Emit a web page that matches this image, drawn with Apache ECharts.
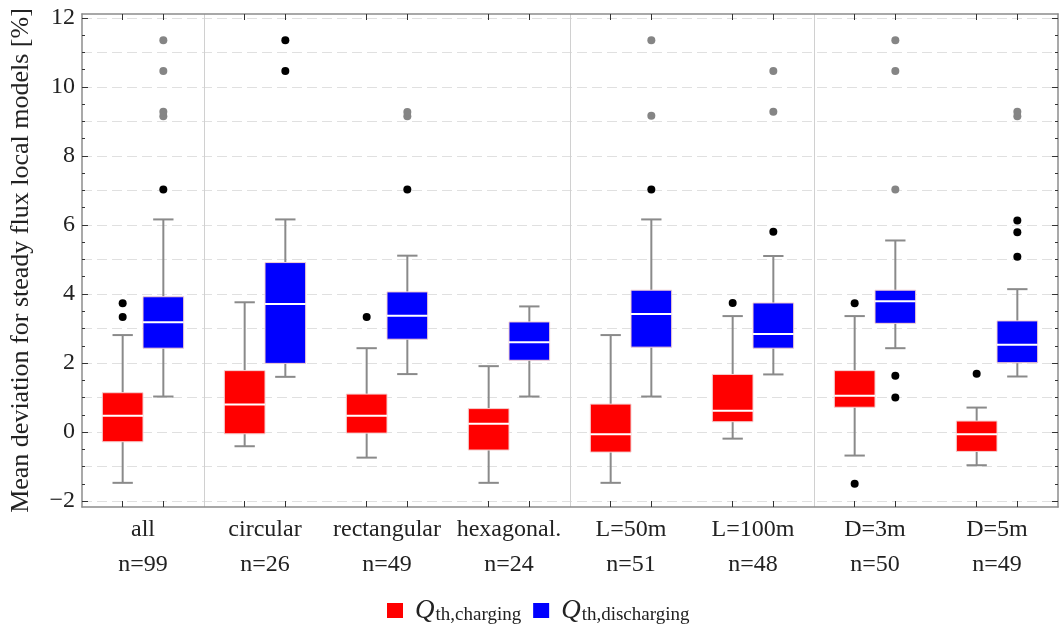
<!DOCTYPE html>
<html>
<head>
<meta charset="UTF-8">
<script src="https://cdn.jsdelivr.net/npm/echarts@6/dist/echarts.min.js"></script>
<style>
    html, body { margin: 0; background: #fff; }
    #chart { width: 1063px; height: 630px; }
</style>
</head>
<body>
<div id="chart"></div>
<script>
    // groups along the x axis, with sample sizes
    var groups = ['all', 'circular', 'rectangular', 'hexagonal.', 'L=50m', 'L=100m', 'D=3m', 'D=5m'];
    var counts = [99, 26, 49, 24, 51, 48, 50, 49];

    // [whisker low, Q1, median, Q3, whisker high]
    var charging = [
        [-1.47, -0.28, 0.47, 1.14, 2.81],
        [-0.41, -0.05, 0.80, 1.78, 3.76],
        [-0.74, -0.03, 0.47, 1.10, 2.43],
        [-1.47, -0.52, 0.24, 0.68, 1.91],
        [-1.47, -0.58, -0.06, 0.81, 2.81],
        [-0.19, 0.30, 0.62, 1.67, 3.36],
        [-0.68, 0.72, 1.05, 1.78, 3.36],
        [-0.96, -0.56, -0.06, 0.32, 0.71]
    ];
    var discharging = [
        [1.03, 2.43, 3.18, 3.92, 6.16],
        [1.60, 1.99, 3.71, 4.91, 6.16],
        [1.68, 2.69, 3.37, 4.06, 5.11],
        [1.03, 2.08, 2.60, 3.19, 3.64],
        [1.03, 2.46, 3.42, 4.11, 6.16],
        [1.67, 2.43, 2.84, 3.74, 5.10],
        [2.43, 3.15, 3.79, 4.11, 5.55],
        [1.61, 2.01, 2.53, 3.22, 4.14]
    ];

    // outliers as [group index, value]
    var chargingOut = [[0, 3.73], [0, 3.33], [2, 3.33], [5, 3.74], [6, 3.73], [6, -1.50], [7, 1.69]];
    var dischargingOut = [[0, 7.03], [1, 11.35], [1, 10.46], [2, 7.03], [4, 7.03], [5, 5.80],
        [6, 1.63], [6, 1.00], [7, 6.13], [7, 5.79], [7, 5.08]];
    var dischargingFar = [[0, 9.15], [0, 9.28], [0, 10.46], [0, 11.35], [2, 9.15], [2, 9.27],
        [4, 9.16], [4, 11.35], [5, 9.28], [5, 10.46], [6, 7.03], [6, 10.46], [6, 11.35],
        [7, 9.15], [7, 9.28]];

    var yLabels = [-2, 0, 2, 4, 6, 8, 10, 12];
    var separators = [1, 4, 6];

    var halfSteps = [], wholeSteps = [], boxCenters = [];
    for (var v = -2; v <= 12; v += 0.5) halfSteps.push(v);
    for (var v = -2; v <= 12; v += 1) wholeSteps.push(v);
    for (var g = 0; g < groups.length; g++) boxCenters.push(g + 1 / 3, g + 2 / 3);

    var serif = 'Liberation Serif';
    var frame = '#8c8c8c';

    function boxData(stats, shift) {
        return stats.map(function (s, i) { return [i + shift].concat(s); });
    }
    function outData(list, shift) {
        return list.map(function (p) { return [p[0] + shift, p[1]]; });
    }

    function renderBox(params, api) {
        var x = api.value(0);
        var lo = api.coord([x, api.value(1)]);
        var q1 = api.coord([x, api.value(2)]);
        var md = api.coord([x, api.value(3)]);
        var q3 = api.coord([x, api.value(4)]);
        var hi = api.coord([x, api.value(5)]);
        var w = api.size([1 / 3, 0])[0];
        var cap = w / 4;
        var whisker = { stroke: '#8a8a8a', lineWidth: 2 };
        return {
            type: 'group',
            children: [
                { type: 'line', shape: { x1: lo[0], y1: lo[1], x2: q1[0], y2: q1[1] }, style: whisker },
                { type: 'line', shape: { x1: q3[0], y1: q3[1], x2: hi[0], y2: hi[1] }, style: whisker },
                { type: 'line', shape: { x1: lo[0] - cap, y1: lo[1], x2: lo[0] + cap, y2: lo[1] }, style: whisker },
                { type: 'line', shape: { x1: hi[0] - cap, y1: hi[1], x2: hi[0] + cap, y2: hi[1] }, style: whisker },
                { type: 'rect', shape: { x: q3[0] - w / 2, y: q3[1], width: w, height: q1[1] - q3[1] },
                  style: { fill: api.visual('color'), stroke: '#f4d0d0', lineWidth: 1 } },
                { type: 'line', shape: { x1: md[0] - w / 2, y1: md[1], x2: md[0] + w / 2, y2: md[1] },
                  style: { stroke: '#ffffff', lineWidth: 2 } }
            ]
        };
    }

    function valueX(extra) {
        return Object.assign({
            type: 'value', min: 0, max: 8, gridIndex: 0,
            axisLabel: { show: false }, splitLine: { show: false }
        }, extra);
    }
    function valueY(extra) {
        return Object.assign({
            type: 'value', min: -2.17, max: 12.11,
            axisLabel: { show: false }, splitLine: { show: false }
        }, extra);
    }

    var chart = echarts.init(document.getElementById('chart'));
    var option = {
        backgroundColor: '#fff',
        animation: false,
        grid: { left: 80, right: 5, top: 14, bottom: 123 },
        legend: {
            left: 387, top: 597, padding: 0,
            itemWidth: 16, itemHeight: 15, itemGap: 12,
            icon: 'rect',
            data: ['charging', 'discharging'],
            formatter: function (name) { return '{q|Q}{s|th,' + name + '}'; },
            textStyle: {
                rich: {
                    q: { fontFamily: serif, fontStyle: 'italic', fontSize: 27, color: '#222', padding: [0, 1, 0, 7] },
                    s: { fontFamily: serif, fontSize: 19, color: '#222', padding: [9, 0, 0, 0] }
                }
            }
        },
        xAxis: [
            valueX({ position: 'bottom',
                axisLine: { onZero: false, lineStyle: { color: frame, width: 1.5 } },
                axisTick: { inside: true, length: 6, customValues: boxCenters, lineStyle: { color: '#333' } } }),
            valueX({ position: 'top',
                axisLine: { onZero: false, lineStyle: { color: frame, width: 1.5 } },
                axisTick: { inside: true, length: 6, customValues: boxCenters, lineStyle: { color: '#333' } } }),
            valueX({ position: 'bottom',
                axisLine: { show: false, onZero: false },
                axisTick: { show: false, customValues: separators },
                splitLine: { show: true, lineStyle: { color: '#d0d0d0', width: 1 } } }),
            { type: 'category', position: 'bottom', data: groups,
              axisLine: { show: false, onZero: false }, axisTick: { show: false }, splitLine: { show: false },
              axisLabel: {
                  interval: 0, hideOverlap: false,
                  margin: 5, fontFamily: serif, fontSize: 24, color: '#222', lineHeight: 35,
                  formatter: function (val, i) { return val + '\nn=' + counts[i]; }
              } }
        ],
        yAxis: [
            valueY({ position: 'left',
                name: 'Mean deviation for steady flux local models [%]',
                nameLocation: 'middle', nameGap: 48,
                nameTextStyle: { fontFamily: serif, fontSize: 26, color: '#222' },
                axisLine: { show: true, lineStyle: { color: frame, width: 1.5 } },
                axisTick: { show: true, inside: true, length: 6, customValues: yLabels, lineStyle: { color: '#333' } },
                axisLabel: { show: true, customValues: yLabels, margin: 7, fontFamily: serif, fontSize: 24, color: '#222',
                    formatter: function (v) { return v < 0 ? '\u2212' + (-v) : String(v); } } }),
            valueY({ position: 'left',
                axisLine: { show: false },
                axisTick: { show: true, inside: true, length: 3, customValues: halfSteps, lineStyle: { color: '#333' } } }),
            valueY({ position: 'left',
                axisLine: { show: false },
                axisTick: { show: false, customValues: wholeSteps },
                splitLine: { show: true, lineStyle: { color: '#e0e0e0', width: 1.2, type: [10, 5] } } }),
            valueY({ position: 'right',
                axisLine: { show: true, lineStyle: { color: frame, width: 1.5 } },
                axisTick: { show: true, inside: true, length: 6, customValues: yLabels, lineStyle: { color: '#333' } } }),
            valueY({ position: 'right',
                axisLine: { show: false },
                axisTick: { show: true, inside: true, length: 3, customValues: halfSteps, lineStyle: { color: '#333' } } })
        ],
        series: [
            { name: 'charging', type: 'custom', renderItem: renderBox, xAxisIndex: 0, yAxisIndex: 0,
              itemStyle: { color: '#ff0000' }, encode: { x: 0, y: [1, 2, 3, 4, 5] },
              data: boxData(charging, 1 / 3), z: 3 },
            { name: 'discharging', type: 'custom', renderItem: renderBox, xAxisIndex: 0, yAxisIndex: 0,
              itemStyle: { color: '#0000ff' }, encode: { x: 0, y: [1, 2, 3, 4, 5] },
              data: boxData(discharging, 2 / 3), z: 3 },
            { type: 'scatter', xAxisIndex: 0, yAxisIndex: 0, symbolSize: 8, z: 4,
              itemStyle: { color: '#000', opacity: 1 },
              data: outData(chargingOut, 1 / 3).concat(outData(dischargingOut, 2 / 3)) },
            { type: 'scatter', xAxisIndex: 0, yAxisIndex: 0, symbolSize: 8, z: 4,
              itemStyle: { color: '#858585', opacity: 1 }, data: outData(dischargingFar, 2 / 3) }
        ]
    };
    chart.setOption(option);
</script>
</body>
</html>
